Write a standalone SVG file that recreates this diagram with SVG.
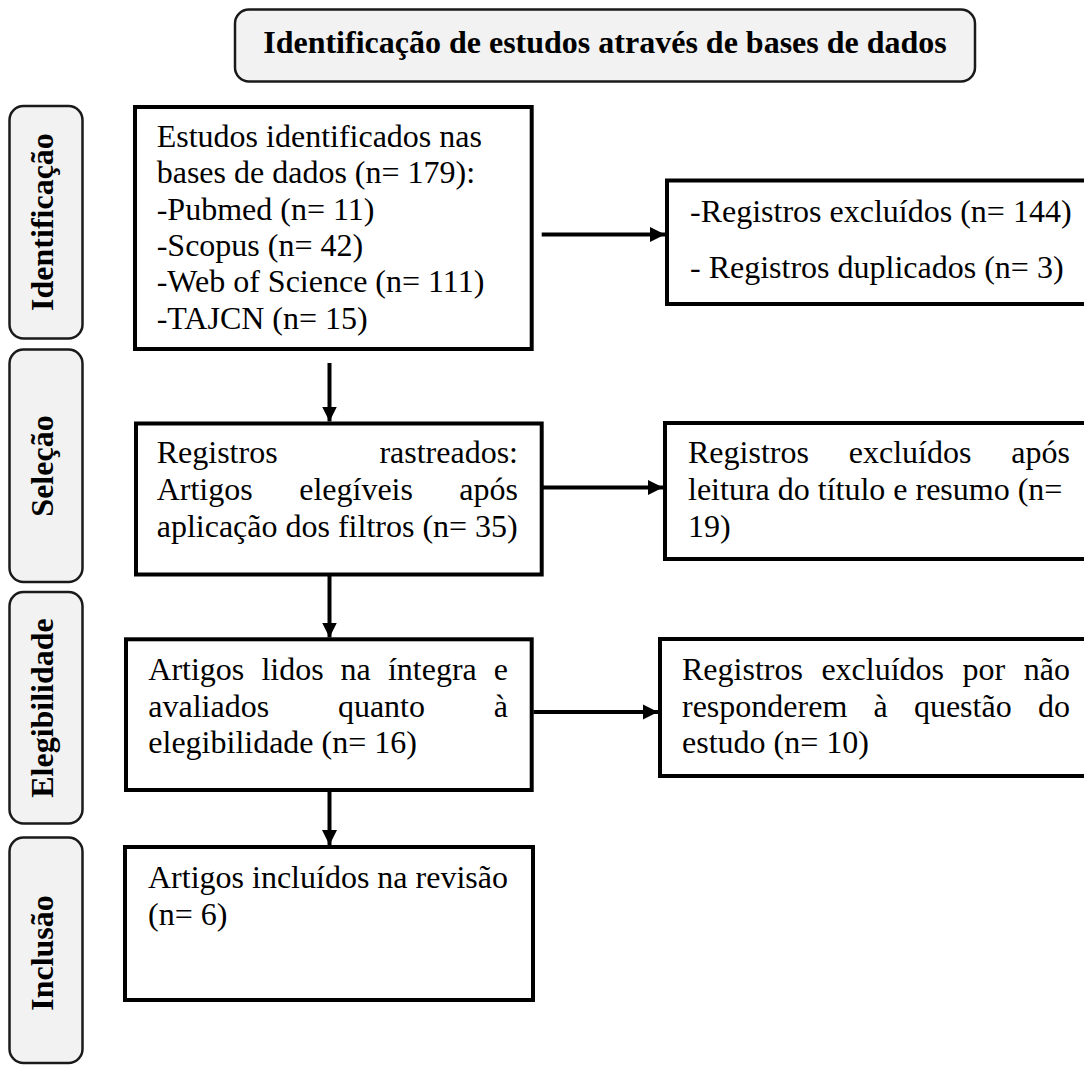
<svg xmlns="http://www.w3.org/2000/svg" width="1084" height="1065" viewBox="0 0 1084 1065">
<style>
.t{font-family:"Liberation Serif","Times New Roman",serif;font-size:32px;fill:#000}
.b{font-weight:bold}
.box{fill:#fff;stroke:#000;stroke-width:4}
.side{fill:#f2f2f2;stroke:#1a1a1a;stroke-width:2.5}
.conn{stroke:#000;stroke-width:4;fill:none;marker-end:url(#ah)}
</style>
<defs>
<marker id="ah" markerUnits="userSpaceOnUse" markerWidth="16" markerHeight="16" viewBox="0 0 16 16" refX="15" refY="8" orient="auto"><path d="M0,0.5 L15,8 L0,15.5 z" fill="#000"/></marker>
</defs>
<rect width="1084" height="1065" fill="#fff"/>
<g id="title">
<rect x="235" y="9.5" width="740" height="72" rx="14" class="side"/>
<text x="605" y="53" text-anchor="middle" class="t b">Identificação de estudos através de bases de dados</text>
</g>
<g id="lane-identificacao">
<rect x="9.5" y="106" width="73" height="232.5" rx="14" class="side"/>
<text transform="translate(53,222) rotate(-90)" text-anchor="middle" class="t b">Identificação</text>
</g>
<g id="lane-selecao">
<rect x="9.5" y="349.5" width="73" height="232.5" rx="14" class="side"/>
<text transform="translate(53,466) rotate(-90)" text-anchor="middle" class="t b">Seleção</text>
</g>
<g id="lane-elegibilidade">
<rect x="9.5" y="592" width="73" height="231.5" rx="14" class="side"/>
<text transform="translate(53,708) rotate(-90)" text-anchor="middle" class="t b">Elegibilidade</text>
</g>
<g id="lane-inclusao">
<rect x="9.5" y="837.5" width="73" height="225.5" rx="14" class="side"/>
<text transform="translate(53,953) rotate(-90)" text-anchor="middle" class="t b">Inclusão</text>
</g>
<g id="connectors">
<line x1="541.7" y1="234.5" x2="665" y2="234.5" class="conn"/>
<line x1="541.7" y1="487.5" x2="663" y2="487.5" class="conn"/>
<line x1="533.5" y1="712" x2="658" y2="712" class="conn"/>
<line x1="329.5" y1="363" x2="329.5" y2="421.5" class="conn"/>
<line x1="329.5" y1="576" x2="329.5" y2="637.5" class="conn"/>
<line x1="329.5" y1="792" x2="329.5" y2="845" class="conn"/>
</g>
<g id="n-estudos">
<rect x="135" y="107" width="396.7" height="242" class="box"/>
<text class="t"><tspan x="156.7" y="147">Estudos identificados nas</tspan><tspan x="156.7" y="183.3">bases de dados (n= 179):</tspan><tspan x="156.7" y="219.6">-Pubmed (n= 11)</tspan><tspan x="156.7" y="256">-Scopus (n= 42)</tspan><tspan x="156.7" y="292.3">-Web of Science (n= 111)</tspan><tspan x="156.7" y="328.6">-TAJCN (n= 15)</tspan></text>
</g>
<g id="n-excluidos1">
<rect x="667" y="180.5" width="440" height="123.5" class="box"/>
<text class="t"><tspan x="690" y="222">-Registros excluídos (n= 144)</tspan><tspan x="690" y="278">- Registros duplicados (n= 3)</tspan></text>
</g>
<g id="n-rastreados">
<rect x="136" y="423.5" width="405.7" height="151" class="box"/>
<text class="t"><tspan x="156.7" y="463.3">Registros</tspan><tspan x="518" y="463.3" text-anchor="end">rastreados:</tspan><tspan x="156.7" y="500">Artigos</tspan><tspan x="299.2" y="500">elegíveis</tspan><tspan x="518" y="500" text-anchor="end">após</tspan><tspan x="156.7" y="536.7">aplicação dos filtros (n= 35)</tspan></text>
</g>
<g id="n-excluidos2">
<rect x="665" y="423" width="440" height="136" class="box"/>
<text class="t"><tspan x="688" y="463.3">Registros</tspan><tspan x="848.8" y="463.3">excluídos</tspan><tspan x="1070" y="463.3" text-anchor="end">após</tspan><tspan x="688" y="500">leitura do título e resumo (n=</tspan><tspan x="688" y="536.7">19)</tspan></text>
</g>
<g id="n-integra">
<rect x="126" y="639.3" width="405.7" height="150.7" class="box"/>
<text class="t"><tspan x="148.3" y="680">Artigos</tspan><tspan x="261.4" y="680">lidos</tspan><tspan x="340.6" y="680">na</tspan><tspan x="387.9" y="680">íntegra</tspan><tspan x="508" y="680" text-anchor="end">e</tspan><tspan x="148.3" y="716.7">avaliados</tspan><tspan x="337.9" y="716.7">quanto</tspan><tspan x="508" y="716.7" text-anchor="end">à</tspan><tspan x="148.3" y="753.3">elegibilidade (n= 16)</tspan></text>
</g>
<g id="n-excluidos3">
<rect x="660" y="639" width="440" height="137" class="box"/>
<text class="t"><tspan x="682" y="680">Registros</tspan><tspan x="821.4" y="680">excluídos</tspan><tspan x="962.6" y="680">por</tspan><tspan x="1070" y="680" text-anchor="end">não</tspan><tspan x="682" y="716.7">responderem</tspan><tspan x="873.5" y="716.7">à</tspan><tspan x="913.9" y="716.7">questão</tspan><tspan x="1070" y="716.7" text-anchor="end">do</tspan><tspan x="682" y="753.3">estudo (n= 10)</tspan></text>
</g>
<g id="n-incluidos">
<rect x="125" y="847" width="408" height="153" class="box"/>
<text class="t"><tspan x="148" y="888.3">Artigos incluídos na revisão</tspan><tspan x="148" y="925">(n= 6)</tspan></text>
</g>
</svg>
